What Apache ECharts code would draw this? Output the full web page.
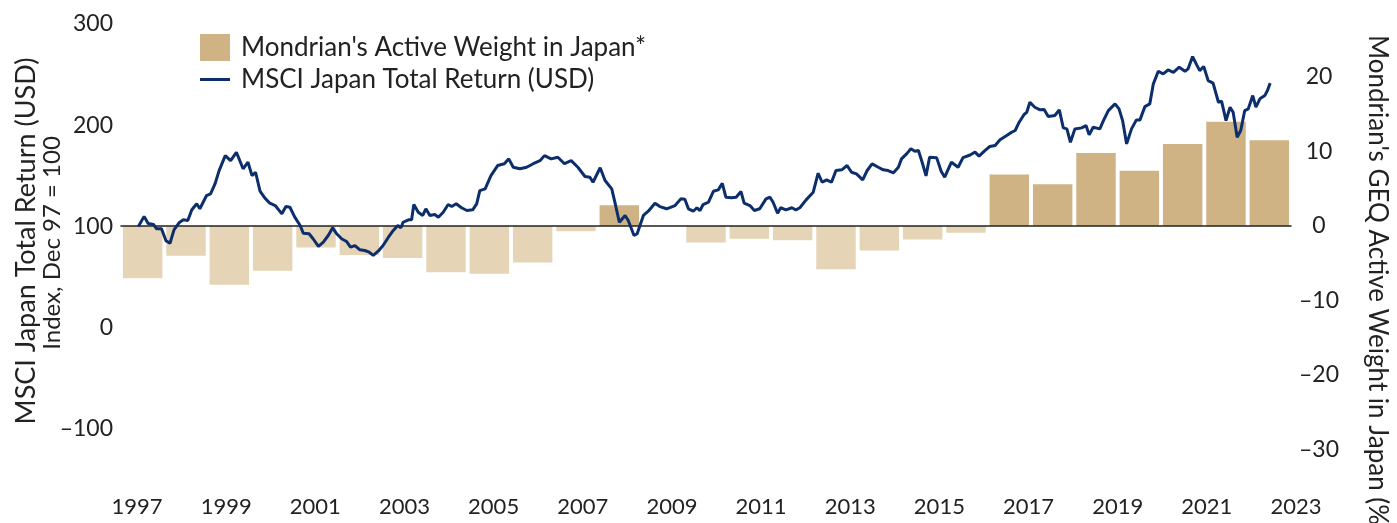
<!DOCTYPE html>
<html>
<head>
<meta charset="utf-8">
<title>MSCI Japan vs Mondrian active weight</title>
<script src="https://cdn.jsdelivr.net/npm/echarts@6/dist/echarts.min.js"></script>
<style>
  html, body { margin: 0; padding: 0; background: #fff; }
  #container { width: 1397px; height: 523px; }
</style>
</head>
<body>
<div id="container"></div>
<script>
// annual active weight bars (right axis, %)
var barYears = ['1997','1998','1999','2000','2001','2002','2003','2004','2005','2006','2007','2008','2009',
    '2010','2011','2012','2013','2014','2015','2016','2017','2018','2019','2020','2021','2022','2023'];
var activeWeight = [-7.0, -4.0, -7.9, -6.0, -2.9, -3.9, -4.3, -6.2, -6.4, -4.9, -0.7, 2.8, 0,
    -2.2, -1.7, -1.9, -5.8, -3.3, -1.8, -0.9, 6.9, 5.6, 9.8, 7.4, 11.0, 14.0, 11.5];

// MSCI Japan total return index (x = year)
var lineYears = [
    1997.03, 1997.16, 1997.25, 1997.37, 1997.44, 1997.55, 1997.65, 1997.74, 1997.83, 1997.95,
    1998.04, 1998.14, 1998.23, 1998.34, 1998.41, 1998.56, 1998.65, 1998.75, 1998.84, 1998.98,
    1999.10, 1999.23, 1999.38, 1999.49, 1999.58, 1999.66, 1999.76, 1999.87, 1999.98,
    2000.10, 2000.25, 2000.34, 2000.43, 2000.54, 2000.66, 2000.73, 2000.86, 2000.95,
    2001.07, 2001.18, 2001.29, 2001.39, 2001.48, 2001.59, 2001.70, 2001.79, 2001.89,
    2002.00, 2002.11, 2002.21, 2002.30, 2002.41, 2002.52, 2002.64, 2002.75, 2002.85, 2002.92, 2002.97,
    2003.09, 2003.16, 2003.21, 2003.31, 2003.41, 2003.48, 2003.57, 2003.68, 2003.76, 2003.87, 2003.98,
    2004.06, 2004.16, 2004.28, 2004.40, 2004.53, 2004.62, 2004.69, 2004.81, 2004.94,
    2005.09, 2005.24, 2005.34, 2005.44, 2005.59, 2005.74, 2005.89,
    2006.04, 2006.14, 2006.29, 2006.44, 2006.59, 2006.74, 2006.89,
    2007.05, 2007.16, 2007.23, 2007.39, 2007.50, 2007.65, 2007.72, 2007.82, 2007.95,
    2008.02, 2008.15, 2008.22, 2008.36, 2008.47, 2008.62, 2008.73, 2008.88,
    2009.07, 2009.20, 2009.29, 2009.37, 2009.48, 2009.56, 2009.63, 2009.70, 2009.82, 2009.93,
    2010.04, 2010.13, 2010.21, 2010.34, 2010.44, 2010.55, 2010.62, 2010.75, 2010.85, 2010.97,
    2011.11, 2011.20, 2011.27, 2011.37, 2011.44, 2011.56, 2011.69, 2011.78, 2011.87,
    2012.01, 2012.17, 2012.28, 2012.37, 2012.47, 2012.58, 2012.68, 2012.81, 2012.93,
    2013.03, 2013.14, 2013.28, 2013.38, 2013.49, 2013.63, 2013.74, 2013.85, 2013.97,
    2014.08, 2014.15, 2014.27, 2014.36, 2014.45, 2014.53, 2014.62, 2014.70, 2014.78, 2014.94,
    2015.04, 2015.12, 2015.27, 2015.42, 2015.53, 2015.69, 2015.80, 2015.89,
    2016.02, 2016.13, 2016.25, 2016.36, 2016.51, 2016.62, 2016.70, 2016.79, 2016.90, 2016.96,
    2017.03, 2017.14, 2017.26, 2017.35, 2017.44, 2017.59, 2017.69, 2017.78, 2017.86, 2017.94,
    2018.04, 2018.19, 2018.29, 2018.36, 2018.45, 2018.60, 2018.68, 2018.79, 2018.94,
    2019.03, 2019.11, 2019.20, 2019.31, 2019.42, 2019.50, 2019.61, 2019.72, 2019.80, 2019.91,
    2020.02, 2020.13, 2020.25, 2020.38, 2020.51, 2020.58, 2020.68, 2020.77, 2020.84, 2020.93,
    2021.03, 2021.14, 2021.26, 2021.33, 2021.43, 2021.52, 2021.59, 2021.68, 2021.76, 2021.85, 2021.93,
    2022.03, 2022.10, 2022.19, 2022.30, 2022.36, 2022.42
];
var lineValues = [
    100, 110, 103, 102, 97.7, 97.7, 86, 83.5, 96.7, 104,
    106.6, 106, 116.5, 122.4, 117.5, 130.6, 132.3, 142, 155, 170,
    165, 173.3, 157, 163.5, 150.3, 153.6, 135, 128, 123,
    120.7, 112.5, 119.7, 119, 109.2, 101, 93.4, 92.8, 87.9,
    80.3, 84.5, 91.1, 98.7, 92.8, 87.9, 85.2, 79.6, 81.2,
    77, 76.3, 74.6, 71.4, 75.6, 81.2, 89.4, 96.1, 101, 98.7, 104.2,
    106.6, 106.6, 121.7, 114.1, 110.9, 117.5, 110.9, 111.8, 109.2, 114.1, 121.7,
    119.7, 122.4, 118.5, 115.8, 116.5, 122.4, 135.5, 137.2, 150.3,
    160.2, 162, 166.8, 158.5, 157, 158.5, 162,
    165, 170, 166.8, 168.4, 162, 165, 158.5,
    149.4, 148.7, 143.7, 158, 145.4, 137.2, 124, 104.2, 110.9,
    105.9, 91.1, 92.8, 110.9, 115.1, 123, 119.7, 117.5,
    120.7, 127.3, 127, 117.5, 115.1, 118.5, 115.8, 121.7, 124, 134.8,
    136.2, 142.7, 128.9, 128.3, 128.9, 134.5, 123, 120.7, 115.8, 117.5,
    127.3, 128.9, 124, 113.1, 118.5, 116.5, 118.5, 116.5, 118.5,
    126.3, 133.9, 152.6, 143.7, 146.1, 143.7, 155.3, 156, 160.2,
    153.6, 152, 146.1, 155.3, 161.9, 158.5, 156, 155.3, 153,
    158.5, 166.8, 172, 176.7, 174.3, 175, 162.5, 150, 168.4, 167.8,
    154.6, 148.7, 163.5, 158.5, 168, 170.6, 173.5, 169.5,
    175, 179, 180, 185.6, 189.8, 193.1, 194.8, 203, 210.6, 212.8,
    222.7, 217.8, 215.2, 215.5, 208.6, 209.6, 215.2, 197.4, 196.4, 183.2,
    196.4, 197.4, 199.7, 190.5, 198, 196.4, 204.6, 214.5, 221.1,
    216.2, 204.6, 181.6, 196.4, 205.3, 205.3, 218.4, 221.1, 240.9, 253.3,
    250.7, 254.6, 252.3, 257.3, 253.3, 255.7, 267.8, 259.9, 254, 258,
    244.1, 241.6, 222.7, 223.8, 204.6, 217.8, 212.8, 188.2, 194.8, 214.5, 216.2,
    229.3, 217.8, 226.1, 229.3, 234.3, 241.6
];

var barName = "Mondrian's Active Weight in Japan*";
var lineName = 'MSCI Japan Total Return (USD)';
var fontFamily = 'Lato, "Noto Sans", sans-serif';
var textColor = '#222';
var barDark = '#cfb385';
var barLight = '#e6d4b6';
var navy = '#0c2e6c';

var dom = document.getElementById('container');
var myChart = echarts.init(dom);

var lineData = [];
for (var i = 0; i < lineYears.length; i++) {
    lineData.push([lineYears[i], lineValues[i]]);
}

// en dash for negative tick labels, like the original
var tickFmt = function (v) {
    return v < 0 ? '\u2013' + Math.abs(v) : String(v);
};

var option = {
    animation: false,
    backgroundColor: '#fff',
    textStyle: { fontFamily: fontFamily, color: textColor },
    legend: {
        orient: 'vertical',
        left: 200,
        top: 34,
        padding: 0,
        itemWidth: 30,
        itemHeight: 27,
        itemGap: 5,
        symbolKeepAspect: true,
        textStyle: { fontSize: 26, lineHeight: 27, color: textColor, fontFamily: fontFamily, padding: [0, 0, 0, 6] },
        data: [
            { name: barName, icon: 'rect', itemStyle: { color: barDark } },
            { name: lineName, icon: 'path://M0,0 L30,0 L30,3 L0,3 Z', itemStyle: { color: navy } }
        ]
    },
    grid: [
        // line grid: left axis + year labels
        { left: 137, right: 101, top: 24, bottom: 94 },
        // bar grid: right axis
        { left: 121, right: 106, top: 77, bottom: 73.5 }
    ],
    xAxis: [
        {
            type: 'value',
            gridIndex: 0,
            min: 1997,
            max: 2023,
            interval: 2,
            axisLine: { show: false },
            axisTick: { show: false },
            splitLine: { show: false },
            axisLabel: {
                fontSize: 22,
                color: textColor,
                margin: 67,
                formatter: function (v) { return String(v); }
            }
        },
        {
            type: 'category',
            gridIndex: 1,
            data: barYears,
            z: 3,
            axisLine: { show: true, onZero: true, lineStyle: { color: '#222', width: 1.5 } },
            axisTick: { show: false },
            axisLabel: { show: false },
            splitLine: { show: false }
        }
    ],
    yAxis: [
        {
            type: 'value',
            gridIndex: 0,
            min: -100,
            max: 300,
            interval: 100,
            axisLine: { show: false },
            axisTick: { show: false },
            splitLine: { show: false },
            axisLabel: { fontSize: 23, color: textColor, margin: 24, formatter: tickFmt }
        },
        {
            type: 'value',
            gridIndex: 1,
            position: 'right',
            min: -30,
            max: 20,
            interval: 10,
            axisLine: { show: false },
            axisTick: { show: false },
            splitLine: { show: false },
            axisLabel: { fontSize: 23, color: textColor, margin: 28, align: 'center', formatter: tickFmt }
        }
    ],
    graphic: [
        {
            type: 'text',
            x: 26, y: 241,
            rotation: Math.PI / 2,
            style: {
                text: 'MSCI Japan Total Return (USD)',
                font: '27px ' + fontFamily,
                fill: textColor,
                align: 'center',
                verticalAlign: 'middle'
            }
        },
        {
            type: 'text',
            x: 52, y: 243,
            rotation: Math.PI / 2,
            style: {
                text: 'Index, Dec 97 = 100',
                font: '24px ' + fontFamily,
                fill: textColor,
                align: 'center',
                verticalAlign: 'middle'
            }
        },
        {
            type: 'text',
            x: 1377, y: 35,
            rotation: -Math.PI / 2,
            style: {
                text: "Mondrian's GEQ Active Weight in Japan (%)",
                font: '26px ' + fontFamily,
                fill: textColor,
                align: 'left',
                verticalAlign: 'middle'
            }
        }
    ],
    series: [
        {
            name: barName,
            type: 'bar',
            xAxisIndex: 1,
            yAxisIndex: 1,
            barCategoryGap: '9%',
            data: activeWeight,
            itemStyle: {
                color: function (p) {
                    return p.value < 0 ? barLight : barDark;
                }
            }
        },
        {
            name: lineName,
            type: 'line',
            xAxisIndex: 0,
            yAxisIndex: 0,
            symbol: 'none',
            showSymbol: false,
            z: 4,
            lineStyle: { color: navy, width: 3 },
            itemStyle: { color: navy },
            data: lineData
        }
    ]
};

if (option && typeof option === 'object') {
    myChart.setOption(option, true);
}
</script>
</body>
</html>
